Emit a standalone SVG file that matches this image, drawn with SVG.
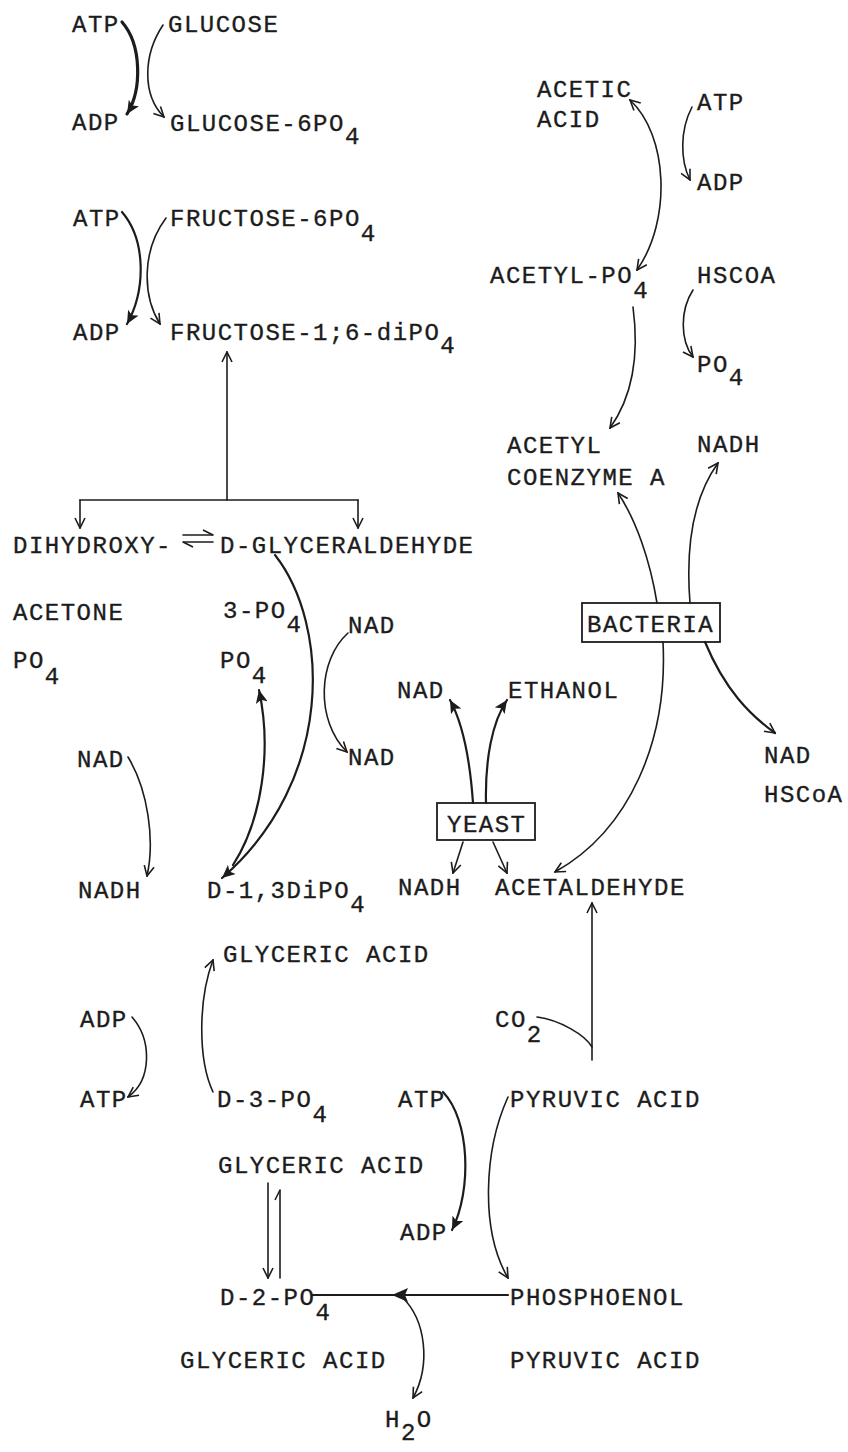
<svg xmlns="http://www.w3.org/2000/svg" width="848" height="1452" viewBox="0 0 848 1452">
  <style>
    text { font-family: "Liberation Mono", "DejaVu Sans Mono", monospace; font-size: 24px; letter-spacing: 1.5px; fill: #1c1c1c; stroke: #1c1c1c; stroke-width: 0.35; }
    .ln { fill: none; stroke: #1c1c1c; stroke-width: 1.6; stroke-linecap: round; }
    .bold { stroke-width: 3.2; }
    .mid { stroke-width: 2.2; }
    .box { fill: none; stroke: #1c1c1c; stroke-width: 1.8; }
    .open { marker-end: url(#open); }
    .solid { marker-end: url(#solid); }
  </style>
  <defs>
    <marker id="open" viewBox="0 0 12 12" refX="11" refY="6" markerWidth="12" markerHeight="12" markerUnits="userSpaceOnUse" orient="auto-start-reverse">
      <path d="M1,1 L11,6 L1,11" fill="none" stroke="#1c1c1c" stroke-width="1.6"/>
    </marker>
    <marker id="solid" viewBox="0 0 14 12" refX="13" refY="6" markerWidth="14" markerHeight="12" markerUnits="userSpaceOnUse" orient="auto">
      <path d="M0,0 L13,6 L0,12 L3,6 Z" fill="#1c1c1c"/>
    </marker>
    <marker id="harpR" viewBox="0 0 12 8" refX="11" refY="6" markerWidth="12" markerHeight="8" markerUnits="userSpaceOnUse" orient="auto">
      <path d="M1,1 L11,6" fill="none" stroke="#1c1c1c" stroke-width="1.6"/>
    </marker>
  </defs>

  <!-- connectors -->
  <g id="connectors">
    <!-- glucose phosphorylation -->
    <path class="ln bold solid" d="M122,22 C142,45 142,90 127,114"/>
    <path class="ln open" d="M163,25 C143,55 142,95 164,117"/>
    <!-- fructose phosphorylation -->
    <path class="ln mid solid" d="M122,212 C146,240 146,290 127,324"/>
    <path class="ln open" d="M166,218 C142,250 142,295 160,324"/>
    <!-- aldolase split -->
    <path class="ln open" d="M227,500 L227,352"/>
    <path class="ln" d="M80,500 L358,500"/>
    <path class="ln open" d="M80,500 L80,528"/>
    <path class="ln open" d="M358,500 L358,528"/>
    <!-- isomerase equilibrium -->
    <path class="ln" d="M183,535 L213,535" marker-end="url(#harpR)"/>
    <path class="ln" d="M213,542 L183,542" marker-end="url(#harpR)"/>
    <!-- glyceraldehyde to diphosphoglycerate -->
    <path class="ln mid solid" d="M275,555 C330,625 335,780 222,878"/>
    <path class="ln mid solid" d="M233,865 C262,820 272,750 259,690"/>
    <path class="ln open" d="M348,633 C318,660 315,720 347,752"/>
    <path class="ln open" d="M128,757 C148,790 155,840 147,876"/>
    <!-- diphospho to 3-phospho -->
    <path class="ln open" d="M213,1092 C198,1060 198,1000 213,960"/>
    <path class="ln open" d="M132,1017 C152,1040 152,1080 128,1097"/>
    <!-- mutase -->
    <path class="ln open" d="M268,1183 L268,1278"/>
    <path class="ln" d="M280,1278 L280,1190" marker-end="url(#harpR)"/>
    <!-- enolase -->
    <path class="ln mid" d="M508,1295 L312,1295"/>
    <path d="M392,1295 L408,1288 L405,1295 L408,1302 Z" fill="#1c1c1c"/>
    <path class="ln open" d="M402,1297 C426,1320 431,1365 413,1398"/>
    <!-- pyruvate kinase -->
    <path class="ln mid solid" d="M443,1092 C470,1120 472,1190 452,1230"/>
    <path class="ln open" d="M508,1097 C484,1150 480,1230 508,1278"/>
    <!-- decarboxylation -->
    <path class="ln open" d="M592,1060 L592,903"/>
    <path class="ln" d="M537,1017 C560,1020 585,1035 592,1047"/>
    <!-- yeast branch -->
    <path class="ln mid solid" d="M473,803 C470,760 462,722 450,700"/>
    <path class="ln mid solid" d="M486,803 C485,760 492,722 507,700"/>
    <path class="ln open" d="M463,842 L453,873"/>
    <path class="ln open" d="M493,842 L507,873"/>
    <!-- bacteria branch -->
    <path class="ln open" d="M663,642 C668,740 630,830 555,872"/>
    <path class="ln open" d="M657,603 C650,560 636,520 618,493"/>
    <path class="ln open" d="M690,603 C685,540 695,495 718,463"/>
    <path class="ln mid open" d="M705,642 C725,690 750,715 775,733"/>
    <!-- acetate activation -->
    <path class="ln open" d="M630,100 C668,135 672,220 637,270" marker-start="url(#open)"/>
    <path class="ln open" d="M692,107 C680,130 680,160 690,180"/>
    <path class="ln open" d="M633,307 C640,360 630,400 610,428"/>
    <path class="ln open" d="M693,290 C680,310 680,340 693,357"/>
  </g>

  <!-- nodes -->
  <g id="n-atp1"><text x="72" y="32">ATP</text></g>
  <g id="n-glucose"><text x="168" y="32">GLUCOSE</text></g>
  <g id="n-adp1"><text x="72" y="130">ADP</text></g>
  <g id="n-g6p"><text x="170" y="131">GLUCOSE-6PO<tspan dy="13">4</tspan></text></g>

  <g id="n-atp2"><text x="73" y="226">ATP</text></g>
  <g id="n-f6p"><text x="170" y="226">FRUCTOSE-6PO<tspan dy="15">4</tspan></text></g>
  <g id="n-adp2"><text x="73" y="340">ADP</text></g>
  <g id="n-f16p"><text x="170" y="340">FRUCTOSE-1;6-diPO<tspan dy="13">4</tspan></text></g>

  <g id="n-dhap">
    <text x="13" y="553">DIHYDROXY-</text>
    <text x="13" y="620">ACETONE</text>
    <text x="13" y="668">PO<tspan dy="16">4</tspan></text>
  </g>
  <g id="n-gap">
    <text x="220" y="553">D-GLYCERALDEHYDE</text>
    <text x="223" y="618">3-PO<tspan dy="14">4</tspan></text>
  </g>
  <g id="n-pi"><text x="220" y="668">PO<tspan dy="15">4</tspan></text></g>
  <g id="n-nad-a"><text x="348" y="633">NAD</text></g>
  <g id="n-nad-b"><text x="348" y="765">NAD</text></g>
  <g id="n-nad-c"><text x="77" y="767">NAD</text></g>
  <g id="n-nadh-a"><text x="78" y="898">NADH</text></g>
  <g id="n-dpg"><text x="207" y="898">D-1,3DiPO<tspan dy="14">4</tspan></text></g>
  <g id="n-gly-acid1"><text x="223" y="962">GLYCERIC ACID</text></g>

  <g id="n-adp3"><text x="80" y="1027">ADP</text></g>
  <g id="n-atp3"><text x="80" y="1107">ATP</text></g>
  <g id="n-3pg">
    <text x="217" y="1107">D-3-PO<tspan dy="15">4</tspan></text>
    <text x="218" y="1173">GLYCERIC ACID</text>
  </g>
  <g id="n-2pg">
    <text x="220" y="1305">D-2-PO<tspan dy="15">4</tspan></text>
    <text x="180" y="1368">GLYCERIC ACID</text>
  </g>
  <g id="n-h2o"><text x="385" y="1427">H<tspan dy="13">2</tspan><tspan dy="-13">O</tspan></text></g>
  <g id="n-pep">
    <text x="510" y="1305">PHOSPHOENOL</text>
    <text x="510" y="1368">PYRUVIC ACID</text>
  </g>
  <g id="n-atp4"><text x="398" y="1107">ATP</text></g>
  <g id="n-adp4"><text x="400" y="1240">ADP</text></g>
  <g id="n-pyruvate"><text x="510" y="1107">PYRUVIC ACID</text></g>
  <g id="n-co2"><text x="495" y="1027">CO<tspan dy="15">2</tspan></text></g>

  <g id="n-nadh-b"><text x="398" y="895">NADH</text></g>
  <g id="n-acetaldehyde"><text x="495" y="895">ACETALDEHYDE</text></g>
  <g id="n-yeast">
    <rect class="box" x="437" y="803" width="98" height="37"/>
    <text x="447" y="832">YEAST</text>
  </g>
  <g id="n-nad-d"><text x="397" y="698">NAD</text></g>
  <g id="n-ethanol"><text x="508" y="698">ETHANOL</text></g>

  <g id="n-bacteria">
    <rect class="box" x="582" y="603" width="138" height="39"/>
    <text x="587" y="632">BACTERIA</text>
  </g>
  <g id="n-nad-e"><text x="764" y="763">NAD</text></g>
  <g id="n-hscoa-b"><text x="764" y="802">HSCoA</text></g>

  <g id="n-acetyl-coa">
    <text x="507" y="453">ACETYL</text>
    <text x="507" y="485">COENZYME A</text>
  </g>
  <g id="n-nadh-c"><text x="697" y="452">NADH</text></g>
  <g id="n-acetic">
    <text x="537" y="97">ACETIC</text>
    <text x="537" y="127">ACID</text>
  </g>
  <g id="n-atp5"><text x="697" y="110">ATP</text></g>
  <g id="n-adp5"><text x="697" y="190">ADP</text></g>
  <g id="n-acetyl-p"><text x="490" y="283">ACETYL-PO<tspan dy="15">4</tspan></text></g>
  <g id="n-hscoa-a"><text x="697" y="283">HSCOA</text></g>
  <g id="n-pi-b"><text x="697" y="372">PO<tspan dy="13">4</tspan></text></g>
</svg>
